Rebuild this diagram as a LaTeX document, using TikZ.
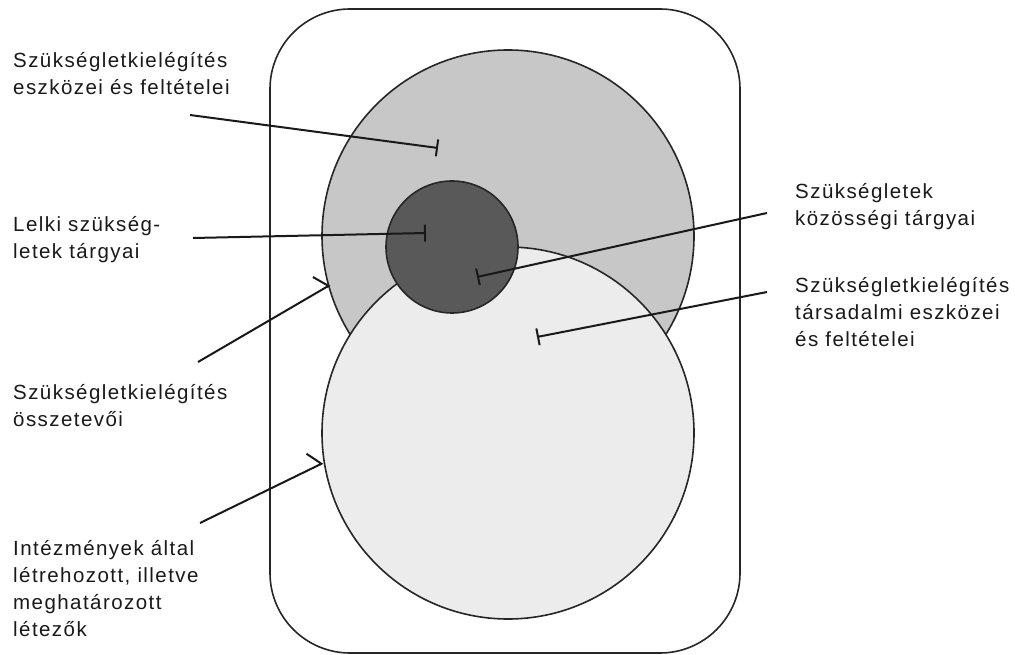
\documentclass[tikz,border=0pt]{standalone}
\usepackage{fontspec}
\setmainfont{Liberation Sans}[LetterSpace=7]
\usepackage{tikz}
\usetikzlibrary{arrows.meta,positioning}
\definecolor{szurke}{gray}{0.78}
\definecolor{halvany}{gray}{0.925}
\definecolor{sotet}{gray}{0.35}
\tikzset{
  keret/.style={draw=black!85,line width=1.6pt,rounded corners=80pt},
  kor/.style={draw=black!85,line width=1.6pt},
  felirat/.style={anchor=north west,inner sep=0pt,align=left,text=black!90,font=\fontsize{20.5}{27}\selectfont},
  jelzo/.style={black!90,line width=2pt,-{Bar[width=17pt,line width=2pt]}},
  nyil/.style={black!90,line width=2pt,-{Straight Barb[harpoon,length=9pt,width=31pt,line width=2pt]}}
}

\begin{document}
\begin{tikzpicture}[x=1pt,y=-1pt]
\useasboundingbox (0,0) rectangle (1015,655);
% keret
\draw[keret] (270,9) rectangle (740,653);
% korok
\draw[kor,fill=szurke] (508,236) circle (186);
\draw[kor,fill=halvany] (508,433) circle (186);
\draw[kor,fill=sotet] (452,247) circle (66);
% feliratok
\node[felirat] (eszkoz) at (13,52) {Szükségletkielégítés\\eszközei és feltételei};
\node[felirat] (lelki) at (13,216.5) {Lelki szükség-\\letek tárgyai};
\node[felirat] (osszetevo) at (13,384) {Szükségletkielégítés\\összetevői};
\node[felirat] (intezmeny) at (13,540) {Intézmények által\\létrehozott, illetve\\meghatározott\\létezők};
\node[felirat] (kozossegi) at (795,183) {Szükségletek\\közösségi tárgyai};
\node[felirat] (tarsadalmi) at (795,277) {Szükségletkielégítés\\társadalmi eszközei\\és feltételei};
% vonalak vegpontjai
\coordinate (e1) at (190,115);  \coordinate (v1) at (438,148);
\coordinate (e2) at (193,238);  \coordinate (v2) at (426,233);
\coordinate (e3) at (767,213);  \coordinate (v3) at (477,277);
\coordinate (e4) at (767,292);  \coordinate (v4) at (537,337);
\coordinate (e5) at (198,362);  \coordinate (v5) at (330,285);
\coordinate (e6) at (200,523);  \coordinate (v6) at (323,463);
% vonalak
\draw[jelzo] (e1) -- (v1);
\draw[jelzo] (e2) -- (v2);
\draw[jelzo] (e3) -- (v3);
\draw[jelzo] (e4) -- (v4);
\draw[nyil] (e5) -- (v5);
\draw[nyil] (e6) -- (v6);
\end{tikzpicture}
\end{document}
